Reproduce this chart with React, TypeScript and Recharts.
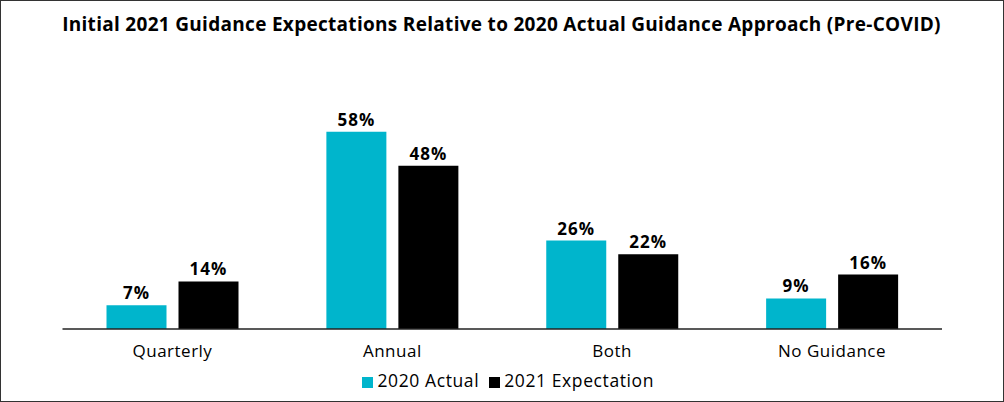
import { BarChart, Bar, XAxis, YAxis, Legend, LabelList } from 'recharts';

const categories = ['Quarterly', 'Annual', 'Both', 'No Guidance'];
const actual2020 = [7, 58, 26, 9];
const expectation2021 = [14, 48, 22, 16];

const data = categories.map((name, i) => ({
  name,
  actual: actual2020[i],
  expectation: expectation2021[i]
}));

const FONT = '"Open Sans", "Noto Sans", sans-serif';

const labelStyle = {
  fill: '#000',
  fontWeight: 700,
  fontSize: 17,
  letterSpacing: 1,
  fontFamily: FONT
};

export default function App() {
  return (
    <div
      style={{
        position: 'absolute',
        left: 0,
        top: 0,
        width: 1004,
        height: 402,
        border: '1.5px solid #333',
        boxSizing: 'border-box',
        background: '#fff',
        fontFamily: FONT
      }}
    >
      <div
        style={{
          position: 'absolute',
          top: 10,
          left: 0,
          width: 1001,
          textAlign: 'center',
          fontWeight: 700,
          fontSize: 19,
          letterSpacing: 0.3,
          color: '#000'
        }}
      >
        Initial 2021 Guidance Expectations Relative to 2020 Actual Guidance Approach (Pre-COVID)
      </div>
      <BarChart
        width={1001}
        height={399}
        data={data}
        margin={{ top: 90, right: 60, left: 61.5, bottom: 16 }}
        barCategoryGap={44}
        barGap={12}
      >
        <XAxis
          dataKey="name"
          axisLine={{ stroke: '#222', strokeWidth: 1.5 }}
          tickLine={false}
          tickMargin={10}
          height={30}
          tick={{ fill: '#000', fontSize: 17, letterSpacing: 0.5, fontFamily: FONT }}
        />
        <YAxis hide domain={[0, 70]} />
        <Legend
          iconType="square"
          iconSize={11}
          height={25}
          wrapperStyle={{ bottom: 7, paddingLeft: 11, fontSize: 17.5, letterSpacing: 0.6, fontFamily: FONT }}
          formatter={(value) => <span style={{ color: '#000' }}>{value}</span>}
        />
        <Bar dataKey="actual" name="2020 Actual" fill="#00B5CC" isAnimationActive={false}>
          <LabelList dataKey="actual" position="top" offset={6} formatter={(v) => `${v}%`} style={labelStyle} />
        </Bar>
        <Bar dataKey="expectation" name="2021 Expectation" fill="#000" isAnimationActive={false}>
          <LabelList dataKey="expectation" position="top" offset={6} formatter={(v) => `${v}%`} style={labelStyle} />
        </Bar>
      </BarChart>
    </div>
  );
}
